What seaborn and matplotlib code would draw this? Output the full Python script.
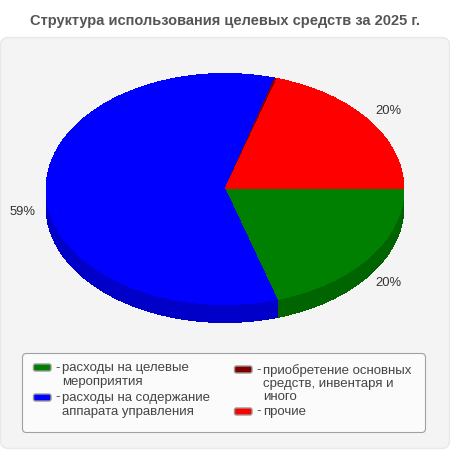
import matplotlib
matplotlib.use("Agg")
import matplotlib.pyplot as plt
from matplotlib.patches import FancyBboxPatch
import seaborn as sns

sns.set_theme(style="white")
plt.rcParams['font.family'] = ['Liberation Sans', 'DejaVu Sans']

title = "Структура использования целевых средств за 2025 г."
categories = [["расходы на целевые", "мероприятия"],
              ["расходы на содержание", "аппарата управления"],
              ["приобретение основных", "средств, инвентаря и", "иного"],
              ["прочие"]]
values = [20.3, 59.2, 0.2, 20.3]
pct_labels = ["20%", "59%", "", "20%"]
colors = sns.color_palette(["#008000", "#0000ff", "#800000", "#ff0000"])
side_colors = sns.color_palette(["#006400", "#0000c8", "#640000", "#c80000"])

W = H = 450
fig = plt.figure(figsize=(4.5, 4.5), dpi=100, facecolor="white")

bg = fig.add_axes([0, 0, 1, 1])
bg.set_xlim(0, W)
bg.set_ylim(H, 0)
bg.axis("off")

bg.add_patch(FancyBboxPatch((0.5, 37.5), 449, 411, boxstyle="round,pad=0,rounding_size=8",
                            fc="#f4f4f4", ec="#e8e8e8", lw=1))
bg.add_patch(FancyBboxPatch((22.5, 353.5), 403, 79, boxstyle="round,pad=0,rounding_size=4",
                            fc="#fbfbfb", ec="#a0a0a0", lw=0.8))
bg.text(225, 21, title, ha="center", va="center", fontsize=10.5, fontweight="bold", color="#555555")

# pie
cx, cy, rx, ry, depth = 225, 189, 179, 115.5, 18
ax = fig.add_axes([(cx - rx) / W, 1 - (cy + ry) / H, 2 * rx / W, 2 * ry / H])
for p in range(int(depth * 2), 0, -1):
    off = p / 2 / ry
    wedges, _ = ax.pie(values, colors=side_colors, startangle=0, counterclock=False,
                       radius=1, center=(0, -off), frame=True,
                       wedgeprops=dict(linewidth=0, antialiased=False))
    for w in wedges:
        w.set_clip_on(False)
wedges, _ = ax.pie(values, colors=colors, startangle=0, counterclock=False, radius=1,
                   center=(0, 0), frame=True, wedgeprops=dict(linewidth=0, antialiased=False))
for w in wedges:
    w.set_clip_on(False)
ax.set_xlim(-1, 1)
ax.set_ylim(-1, 1)
ax.set_aspect("auto")
ax.axis("off")

# percent labels
pct_pos = [(388.5, 283), (22.5, 212), None, (388, 111)]
for lab, pos in zip(pct_labels, pct_pos):
    if pos:
        bg.text(pos[0], pos[1], lab, ha="center", va="center", fontsize=9.4, color="#333333")

# legend
swatch_x = [33.5, 33.5, 234.5, 234.5]
swatch_y = [364, 394, 366, 408]
line_y = [[368.5, 382.5], [397.5, 411.5], [370.5, 384.5, 396.5], [411.5]]
for sx, sy, ys, lines, c in zip(swatch_x, swatch_y, line_y, categories, colors):
    bg.add_patch(FancyBboxPatch((sx, sy), 17.5, 7, boxstyle="round,pad=0,rounding_size=2",
                                fc=c, ec="#999999", lw=1))
    bg.text(sx + 21.5, ys[0], "-", ha="left", va="center", fontsize=9.5, color="#444444")
    for y, line in zip(ys, lines):
        bg.text(sx + 28.5, y, line, ha="left", va="center", fontsize=9.5, color="#444444")

fig.savefig("out.png", dpi=100)
